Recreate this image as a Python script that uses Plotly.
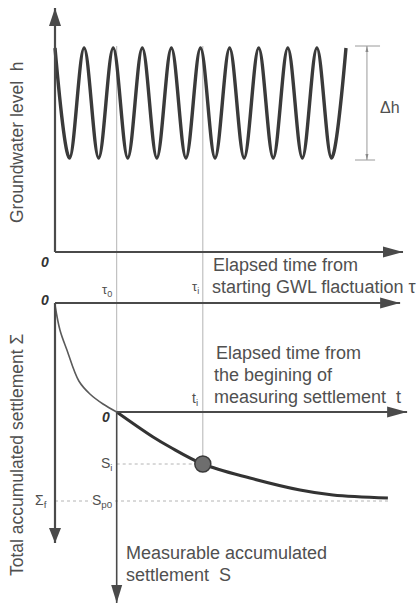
import plotly.graph_objects as go

# ---------------- data ----------------
# groundwater level: alternating peaks / troughs of the fluctuation (tau in periods)
tau_wave = [0.0, 0.5, 1.0, 1.5, 2.0, 2.5, 3.0, 3.5, 4.0, 4.5, 5.0,
            5.5, 6.0, 6.5, 7.0, 7.5, 8.0, 8.5, 9.0, 9.5, 10.0]
h_wave = [10.2, 4.7, 10.2, 4.7, 10.2, 4.7, 10.2, 4.7, 10.2, 4.7, 10.2,
          4.7, 10.2, 4.7, 10.2, 4.7, 10.2, 4.7, 10.2, 4.7, 10.2]

# total accumulated settlement before measuring starts
tau_sigma = [0.0, 0.17, 0.41, 0.82, 1.20, 1.65, 2.12]
sigma_vals = [0.1, 1.35, 2.35, 3.9, 4.55, 5.05, 5.45]

# measurable accumulated settlement (t from tau0, S from Sigma(tau0))
t_meas = [0.0, 1.25, 1.83, 2.96, 4.58, 6.30, 7.43, 9.32]
s_meas = [0.0, 1.25, 1.75, 2.6, 3.3, 3.9, 4.15, 4.3]

TAU0 = 2.12        # start of settlement measurement
TAU_I = 5.08       # instant i
SIGMA0 = 5.45      # Sigma at tau0 (origin of S)
S_I = 2.6          # S at t_i
S_P0 = 4.45        # final measurable settlement
SIGMA_F = SIGMA0 + S_P0
DH_TOP, DH_BOT = 10.3, 4.6

# ---------------- axes set-up ----------------
W, H = 419, 605
X_RANGE = [-1.890, 12.509]
YH_RANGE = [-17.65, 12.6]
YS_RANGE = [15.1, -15.15]


def h_to_sigma(h):
    f = (h - YH_RANGE[0]) / (YH_RANGE[1] - YH_RANGE[0])
    return YS_RANGE[0] + f * (YS_RANGE[1] - YS_RANGE[0])


AX = '#4a4a4a'
GUIDE = '#b4b4b4'
TXT = '#505050'
FONT = 'Liberation Sans, Arial, sans-serif'

fig = go.Figure()

fig.add_trace(go.Scatter(x=tau_wave, y=h_wave, mode='lines',
                         line=dict(shape='spline', width=3.4, color='#3a3a3a'),
                         hoverinfo='skip'))
fig.add_trace(go.Scatter(x=tau_sigma, y=sigma_vals, mode='lines', yaxis='y2',
                         line=dict(shape='spline', width=1.6, color='#5a5a5a'),
                         hoverinfo='skip'))
fig.add_trace(go.Scatter(x=[TAU0 + t for t in t_meas], y=[SIGMA0 + s for s in s_meas],
                         mode='lines', yaxis='y2',
                         line=dict(shape='spline', width=3, color='#333333'),
                         hoverinfo='skip'))
fig.add_trace(go.Scatter(x=[TAU_I], y=[SIGMA0 + S_I], mode='markers', yaxis='y2',
                         marker=dict(size=16, color='#6e6e6e', line=dict(color='#3a3a3a', width=1.5)),
                         hoverinfo='skip'))

shapes = []


def line(x0, y0, x1, y1, yref, color=AX, width=2.2, dash='solid', layer='above'):
    shapes.append(dict(type='line', xref='x', yref=yref, x0=x0, y0=y0, x1=x1, y1=y1,
                       line=dict(color=color, width=width, dash=dash), layer=layer))


def head(x, y, yref, d, L=18, Wd=12, color=AX):
    hw = Wd / 2
    if d == 'up':
        p = f'M0,0 L{-hw},{-L} L{hw},{-L} Z'
    elif d == 'down':
        p = f'M0,0 L{-hw},{L} L{hw},{L} Z'
    else:
        p = f'M0,0 L{-L},{hw} L{-L},{-hw} Z'
    shapes.append(dict(type='path', xref='x', yref=yref, xsizemode='pixel', ysizemode='pixel',
                       xanchor=x, yanchor=y, path=p, fillcolor=color,
                       line=dict(width=0), layer='above'))


# guides
line(TAU0, DH_TOP, TAU0, 0, 'y', GUIDE, 1, layer='below')
line(TAU0, h_to_sigma(0), TAU0, SIGMA0, 'y2', GUIDE, 1, layer='below')
line(TAU_I, DH_TOP, TAU_I, 0, 'y', GUIDE, 1, layer='below')
line(TAU_I, h_to_sigma(0), TAU_I, SIGMA0 + S_I, 'y2', GUIDE, 1, layer='below')
line(TAU0, SIGMA0 + S_I, TAU_I, SIGMA0 + S_I, 'y2', GUIDE, 1, 'dot', 'below')
line(0, SIGMA_F, 11.45, SIGMA_F, 'y2', GUIDE, 1, 'dot', 'below')

# delta h bracket
line(10.31, DH_TOP, 11.17, DH_TOP, 'y', '#9a9a9a', 1)
line(10.31, DH_BOT, 11.0, DH_BOT, 'y', '#9a9a9a', 1)
line(10.72, DH_TOP, 10.72, DH_BOT, 'y', '#9a9a9a', 1)
head(10.72, DH_TOP, 'y', 'up', 6, 3, '#8a8a8a')
head(10.72, DH_BOT, 'y', 'down', 6, 3, '#8a8a8a')

# axes: top panel
line(0, 0, 0, 12.2, 'y')
head(0, 12.2, 'y', 'up')
line(0, 0, 11.96, 0, 'y')
head(11.96, 0, 'y', 'right', 20, 11)
# lower panel
line(0, 0, 11.86, 0, 'y2')
head(11.86, 0, 'y2', 'right', 20, 11)
line(0, 0, 0, 12.0, 'y2')
head(0, 12.0, 'y2', 'down', 15, 12)
line(TAU0, SIGMA0, 12.1, SIGMA0, 'y2')
head(12.1, SIGMA0, 'y2', 'right', 20, 11)
line(TAU0, SIGMA0, TAU0, 15.0, 'y2', AX, 1.6)
head(TAU0, 15.0, 'y2', 'down', 18, 11)

ann = []


def text(s, x, y, yref='y', size=15, xanchor='left', yanchor='middle', xshift=0, yshift=0,
         angle=0, xref='x', bg=None, color=TXT):
    d = dict(text=s, x=x, y=y, xref=xref, yref=yref, showarrow=False, xanchor=xanchor,
             yanchor=yanchor, xshift=xshift, yshift=yshift, textangle=angle,
             font=dict(family=FONT, size=size, color=color), borderpad=0)
    if bg:
        d['bgcolor'] = bg
    ann.append(d)


text('<b><i>0</i></b>', 0, 0, 'y', 14, 'right', 'middle', -5, -10, color='#333')
text('<b><i>0</i></b>', 0, 0, 'y2', 14, 'right', 'middle', -5, 3, color='#333')
text('<b><i>0</i></b>', TAU0, SIGMA0, 'y2', 14, 'right', 'middle', -6, -5, color='#333')
text('τ<sub>0</sub>', TAU0, 0, 'y', 13, 'right', 'middle', -4, -38)
text('τ<sub>i</sub>', TAU_I, 0, 'y', 13, 'right', 'middle', -3, -35)
text('t<sub>i</sub>', TAU_I, SIGMA0, 'y2', 14, 'right', 'middle', -4, 13)
text('S<sub>i</sub>', TAU0, SIGMA0 + S_I, 'y2', 14, 'right', 'middle', -3, 0)
text('S<sub>p0</sub>', TAU0, SIGMA_F, 'y2', 14, 'right', 'middle', -3, 0, bg='white')
text('Σ<sub>f</sub>', 0, SIGMA_F, 'y2', 14, 'right', 'middle', -7, 0)
text('Δh', 11.12, 7.25, 'y', 16, 'left')

text('Elapsed time from', TAU_I, 0, 'y', 18, 'left', 'middle', 9, -13)
text('starting GWL flactuation τ', TAU_I, 0, 'y', 18, 'left', 'middle', 8, -35)
text('Elapsed time from', TAU_I, SIGMA0, 'y2', 18, 'left', 'middle', 12, 59)
text('the begining of', TAU_I, SIGMA0, 'y2', 18, 'left', 'middle', 10, 37)
text('measuring settlement  t', TAU_I, SIGMA0, 'y2', 18, 'left', 'middle', 10, 15)
text('Measurable accumulated', TAU0, SIGMA0, 'y2', 18, 'left', 'middle', 8, -141)
text('settlement  S', TAU0, SIGMA0, 'y2', 18, 'left', 'middle', 8, -163)

text('Groundwater level  h', 17 / W, 1 - 143 / H, 'paper', 17.5, 'center', 'middle',
     angle=-90, xref='paper')
text('Total accumulated settlement Σ', 17 / W, 1 - 455 / H, 'paper', 17.5, 'center', 'middle',
     angle=-90, xref='paper')

ax_common = dict(visible=False, showgrid=False, zeroline=False, fixedrange=True)
fig.update_layout(
    width=W, height=H, margin=dict(l=0, r=0, t=0, b=0, pad=0),
    paper_bgcolor='white', plot_bgcolor='white', showlegend=False,
    xaxis=dict(range=X_RANGE, **ax_common),
    yaxis=dict(range=YH_RANGE, **ax_common),
    yaxis2=dict(range=YS_RANGE, overlaying='y', **ax_common),
    shapes=shapes, annotations=ann,
)
fig.write_html('out.html')
